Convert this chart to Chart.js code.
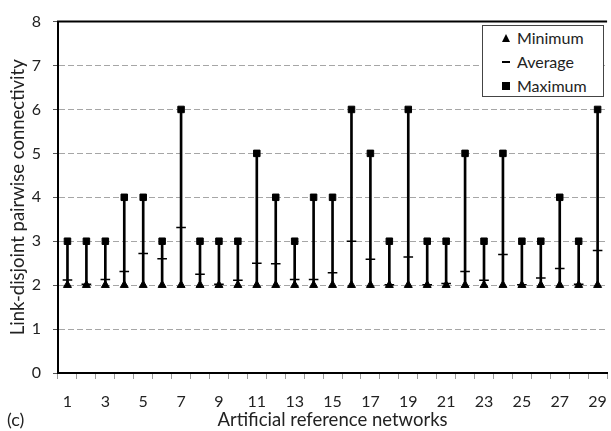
<!DOCTYPE html>
<html>
<head>
<meta charset="utf-8">
<script src="https://cdn.jsdelivr.net/npm/chart.js@4"></script>
<style>
  html, body { margin: 0; padding: 0; background: #fff; overflow: hidden; }
  #wrap { position: relative; width: 620px; height: 431px; }
  #legend {
    position: absolute; left: 482px; top: 25px; width: 120px; height: 70px;
    border: 1px solid #444; background: #fff;
    font-family: Lato, "Open Sans", sans-serif; font-size: 16px; color: #222;
  }
  .row { position: absolute; left: 0; height: 20px; line-height: 20px; }
  .row span.txt { position: absolute; left: 34px; white-space: nowrap; }
  .mk { position: absolute; }
  #tag {
    position: absolute; left: 7px; top: 408px;
    font-family: Lato, "Open Sans", sans-serif; font-size: 18px; color: #222;
  }
</style>
</head>
<body>
<div id="wrap">
  <canvas id="chart" width="620" height="431"></canvas>
  <div id="legend">
    <div class="row" style="top:2px">
      <div class="mk" style="left:19px;top:6px;width:0;height:0;border-left:4px solid transparent;border-right:4px solid transparent;border-bottom:8px solid #000"></div>
      <span class="txt">Minimum</span>
    </div>
    <div class="row" style="top:26px">
      <div class="mk" style="left:19px;top:9px;width:8px;height:2px;background:#000"></div>
      <span class="txt">Average</span>
    </div>
    <div class="row" style="top:50px">
      <div class="mk" style="left:19px;top:6px;width:8px;height:8px;background:#000"></div>
      <span class="txt">Maximum</span>
    </div>
  </div>
  <div id="tag">(c)</div>
</div>
<script>
// networks 1..29
const networks = Array.from({ length: 29 }, (_, i) => String(i + 1));

const minimum = [2, 2, 2, 2, 2, 2, 2, 2, 2, 2, 2, 2, 2, 2, 2, 2, 2, 2, 2, 2, 2, 2, 2, 2, 2, 2, 2, 2, 2];

const average = [2.12, 2.02, 2.13, 2.31, 2.72, 2.60, 3.31, 2.25, 2.02, 2.11,
                 2.50, 2.49, 2.13, 2.13, 2.28, 3.00, 2.59, 2.01, 2.64, 2.01,
                 2.04, 2.31, 2.11, 2.70, 2.01, 2.16, 2.38, 2.02, 2.79];

const maximum = [3, 3, 3, 4, 4, 3, 6, 3, 3, 3, 5, 4, 3, 4, 4, 6, 5, 3, 6, 3,
                 3, 5, 3, 5, 3, 3, 4, 3, 6];

const yTicks = [0, 1, 2, 3, 4, 5, 6, 7, 8];

const FONT = "Lato, 'Open Sans', sans-serif";

// top frame line of the plot area
const topLine = {
    id: "topLine",
    afterDraw(chart) {
        const { ctx, chartArea } = chart;
        ctx.save();
        ctx.strokeStyle = "#000";
        ctx.lineWidth = 2;
        ctx.beginPath();
        ctx.moveTo(chartArea.left - 1, chartArea.top);
        ctx.lineTo(chartArea.right, chartArea.top);
        ctx.stroke();
        ctx.restore();
    }
};

new Chart(document.getElementById("chart"), {

    data: {

        labels: networks,

        datasets: [
            {
                type: "line",
                label: "Maximum",
                data: maximum,
                showLine: false,
                pointStyle: "rect",
                pointRadius: 4.6,
                pointBackgroundColor: "#000",
                pointBorderColor: "#000",
                pointBorderWidth: 1,
                order: 1
            },
            {
                type: "line",
                label: "Minimum",
                data: minimum,
                showLine: false,
                pointStyle: "triangle",
                pointRadius: 4.6,
                pointBackgroundColor: "#000",
                pointBorderColor: "#000",
                pointBorderWidth: 1,
                order: 2
            },
            {
                type: "line",
                label: "Average",
                data: average,
                showLine: false,
                pointStyle: "line",
                pointRadius: 4.8,
                pointBorderColor: "#000",
                pointBorderWidth: 1.5,
                order: 3
            },
            {
                type: "bar",
                label: "Range",
                data: minimum.map((m, i) => [m, maximum[i]]),
                backgroundColor: "#000",
                barThickness: 2,
                order: 4
            }
        ]

    },

    options: {

        responsive: false,

        animation: false,

        layout: {
            padding: { top: 17, right: 3.75, bottom: 0, left: 0 }
        },

        plugins: {
            legend: { display: false },
            tooltip: { enabled: false }
        },

        scales: {

            x: {
                type: "category",
                offset: true,
                grid: {
                    offset: true,
                    drawOnChartArea: false,
                    drawTicks: true,
                    tickLength: 6,
                    tickColor: "#999"
                },
                border: { color: "#000", width: 2 },
                ticks: {
                    autoSkip: false,
                    maxRotation: 0,
                    padding: 13,
                    color: "#222",
                    font: { family: FONT, size: 16 },
                    callback(value, index) {
                        return index % 2 === 0 ? networks[index] : "";
                    }
                },
                title: {
                    display: true,
                    text: "Artificial reference networks",
                    color: "#222",
                    font: { family: FONT, size: 18.5, lineHeight: 1.2 },
                    padding: { top: 0, bottom: 0 }
                },
                afterFit(scale) { scale.height = 58; }
            },

            y: {
                min: 0,
                max: 8,
                afterBuildTicks(scale) {
                    scale.ticks = yTicks.map(v => ({ value: v }));
                },
                grid: {
                    color(ctx) {
                        const v = ctx.tick ? ctx.tick.value : null;
                        return (v === 0 || v === 8) ? "rgba(0,0,0,0)" : "#a6a6a6";
                    },
                    lineWidth: 1,
                    tickLength: 5,
                    tickColor: "#555",
                    tickBorderDash: []
                },
                border: { color: "#000", width: 2, dash: [6, 3] },
                ticks: {
                    padding: 12,
                    color: "#222",
                    font: { family: FONT, size: 16 }
                },
                title: {
                    display: true,
                    text: "Link-disjoint pairwise connectivity",
                    color: "#222",
                    font: { family: FONT, size: 18.5, lineHeight: 1.2 },
                    padding: { top: 7, bottom: 0 }
                },
                afterFit(scale) { scale.width = 58; }
            }

        }

    },

    plugins: [topLine]

});
</script>
</body>
</html>
